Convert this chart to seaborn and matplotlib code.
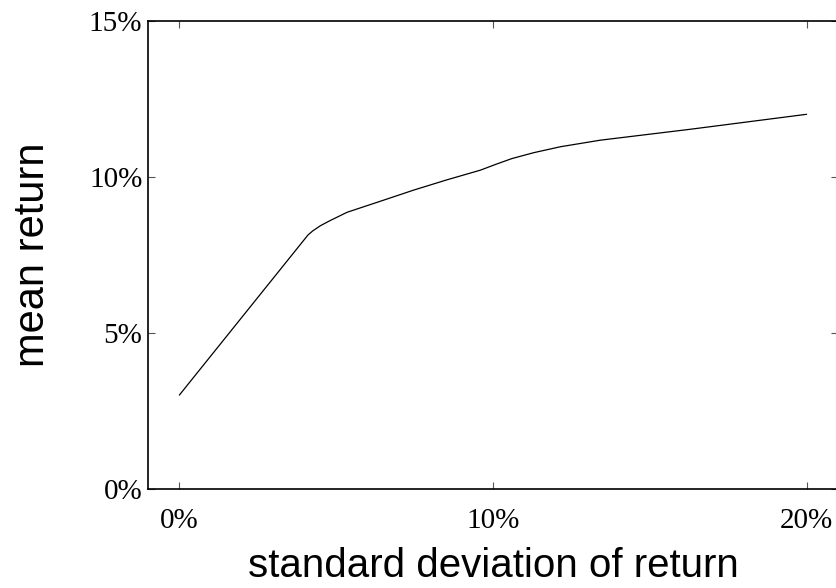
import matplotlib
matplotlib.use("Agg")
import matplotlib.pyplot as plt
import seaborn as sns
import pandas as pd
from matplotlib.ticker import FuncFormatter

# efficient frontier (percent)
std_dev = [0.0, 4.1, 4.25, 4.5, 4.8, 5.35, 6.4, 7.47, 8.5, 9.6, 10.1, 10.6,
           11.3, 12.15, 13.42, 16.29, 20.0]
mean_ret = [3.0, 8.13, 8.26, 8.43, 8.59, 8.86, 9.21, 9.57, 9.89, 10.21, 10.40, 10.58,
            10.77, 10.96, 11.17, 11.52, 12.0]

x_ticks = [0, 10, 20]
y_ticks = [0, 5, 10, 15]

df = pd.DataFrame({'std': std_dev, 'mean': mean_ret})

sns.set_style('ticks')
plt.rcParams['font.family'] = ['Liberation Serif', 'DejaVu Serif']

fig = plt.figure(figsize=(8.37, 5.88), dpi=100)
ax = fig.add_axes([0.1768, 0.1689, 0.8244, 0.7959])

sns.lineplot(data=df, x='std', y='mean', color='black', linewidth=0.9, ax=ax,
             sort=False, estimator=None)

ax.set_xlim(-1, 21)
ax.set_ylim(0, 15)
ax.set_xticks(x_ticks)
ax.set_yticks(y_ticks)
pct = FuncFormatter(lambda v, p: f'{v:.0f}%')
ax.xaxis.set_major_formatter(pct)
ax.yaxis.set_major_formatter(pct)

ax.tick_params(direction='in', length=5, width=0.8, color='#555555',
               top=True, right=True, labelsize=21, labelcolor='black')
ax.tick_params(axis='x', pad=14)
ax.tick_params(axis='y', pad=4)
for s in ax.spines.values():
    s.set_linewidth(1.2)
    s.set_color('black')

ax.set_xlabel('standard deviation of return', family='Liberation Sans', fontsize=29,
              color='black', labelpad=9)
ax.set_ylabel('mean return', family='Liberation Sans', fontsize=30,
              color='black', labelpad=26)

fig.savefig('out.png', dpi=100)
